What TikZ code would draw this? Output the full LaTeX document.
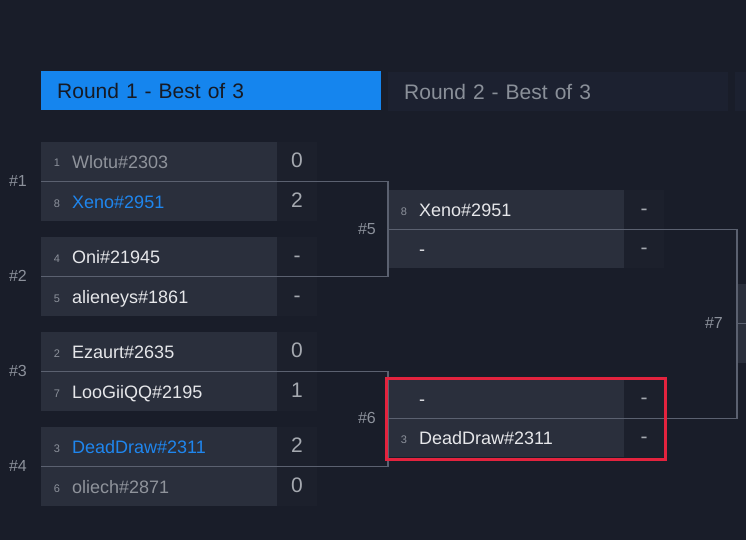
\documentclass[tikz,border=0pt]{standalone}
\usepackage{fontspec}
\setmainfont{Liberation Sans}
\usetikzlibrary{positioning}

\definecolor{pagebg}{HTML}{191D29}
\definecolor{slotc}{HTML}{2A2F3C}
\definecolor{scorebg}{HTML}{1C202C}
\definecolor{hdrblue}{HTML}{1585EE}
\definecolor{hdrdim}{HTML}{1C2130}
\definecolor{hdrdark}{HTML}{161A24}
\definecolor{hdrgray}{HTML}{8A9099}
\definecolor{linec}{HTML}{5B6170}
\definecolor{seedc}{HTML}{8C919B}
\definecolor{scorec}{HTML}{A5A9B0}
\definecolor{winc}{HTML}{1F86EE}
\definecolor{losec}{HTML}{8F939B}
\definecolor{livec}{HTML}{E6E7EA}
\definecolor{markc}{HTML}{E3233E}

\tikzset{
  hdr/.style={minimum height=39pt, inner xsep=16pt, text width=308pt, align=left,
    anchor=north west, font=\fontsize{21}{24}\selectfont},
  plbox/.style={fill=slotc, minimum width=236pt, minimum height=39pt, inner sep=0pt, anchor=north west},
  scbox/.style={fill=scorebg, minimum width=40pt, minimum height=39pt, inner sep=0pt, anchor=north west},
  seedtxt/.style={anchor=base, inner sep=0pt, text=seedc, font=\fontsize{11}{12}\selectfont},
  nametxt/.style={anchor=base west, inner sep=0pt, font=\fontsize{18}{20}\selectfont},
  scoretxt/.style={anchor=base, inner sep=0pt, text=scorec, font=\fontsize{21}{24}\selectfont},
  mlabel/.style={inner sep=0pt, text=seedc, font=\fontsize{16}{18}\selectfont},
  conn/.style={draw=linec, line width=1.2pt},
  hilite/.style={draw=markc, line width=3pt}
}

% name, x, y, seed, player, colour, score
\newcommand{\slot}[7]{%
  \node[plbox] (#1) at (#2,#3) {};
  \node[seedtxt] (#1sd) at (#2+16,#3+25) {#4};
  \node[nametxt, text=#6] (#1nm) at (#2+31,#3+26.5) {#5};
  \node[scbox] (#1sb) at (#2+236,#3) {};
  \node[scoretxt] (#1sc) at (#2+256,#3+25.5) {#7};
}

\begin{document}
\begin{tikzpicture}[x=1pt,y=-1pt]
\clip (0,0) rectangle (746,540);
\fill[pagebg] (0,0) rectangle (746,540);

\node[hdr, fill=hdrblue, text=hdrdark] (h1) at (41,71) {Round 1 - Best of 3};
\node[hdr, fill=hdrdim, text=hdrgray] (h2) at (388,72) {Round 2 - Best of 3};
\node[hdr, fill=hdrdim] (h3) at (735,72) {};

% round 1
\slot{m1a}{41}{142}{1}{Wlotu\#2303}{losec}{0}
\slot{m1b}{41}{182}{8}{Xeno\#2951}{winc}{2}
\slot{m2a}{41}{237}{4}{Oni\#21945}{livec}{-}
\slot{m2b}{41}{277}{5}{alieneys\#1861}{livec}{-}
\slot{m3a}{41}{332}{2}{Ezaurt\#2635}{livec}{0}
\slot{m3b}{41}{372}{7}{LooGiiQQ\#2195}{livec}{1}
\slot{m4a}{41}{427}{3}{DeadDraw\#2311}{winc}{2}
\slot{m4b}{41}{467}{6}{oliech\#2871}{losec}{0}

% round 2
\slot{m5a}{388}{190}{8}{Xeno\#2951}{livec}{-}
\slot{m5b}{388}{229}{}{-}{livec}{-}
\slot{m6a}{388}{379}{}{-}{livec}{-}
\slot{m6b}{388}{418}{3}{DeadDraw\#2311}{livec}{-}

% round 3, cut off
\node[plbox] (m7a) at (737,284) {};
\node[plbox] (m7b) at (737,323.5) {};

\draw[conn] (m1a.south west) -- (m1a.south west -| m5a.west) -- (m2a.south west -| m5a.west) -- (m2a.south west);
\draw[conn] (m3a.south west) -- (m3a.south west -| m6a.west) -- (m4a.south west -| m6a.west) -- (m4a.south west);
\draw[conn] (m5a.south west) -- (m5a.south west -| m7a.west) -- (m6a.south west -| m7a.west) -- (m6a.south west);
\draw[conn] (m7a.south west) -- (m7a.south east);

\node[mlabel, left=14pt of m1a.south west] (l1) {\#1};
\node[mlabel, left=14pt of m2a.south west] (l2) {\#2};
\node[mlabel, left=14pt of m3a.south west] (l3) {\#3};
\node[mlabel, left=14pt of m4a.south west] (l4) {\#4};
\node[mlabel, left=12pt of m5a.south west] (l5) {\#5};
\node[mlabel, left=12pt of m6a.south west] (l6) {\#6};
\node[mlabel, left=14pt of m7a.south west] (l7) {\#7};

\draw[hilite] ([shift={(-1.5,-0.5)}]m6a.north west) rectangle ([shift={(1.5,2.5)}]m6bsb.south east);
\end{tikzpicture}
\end{document}
